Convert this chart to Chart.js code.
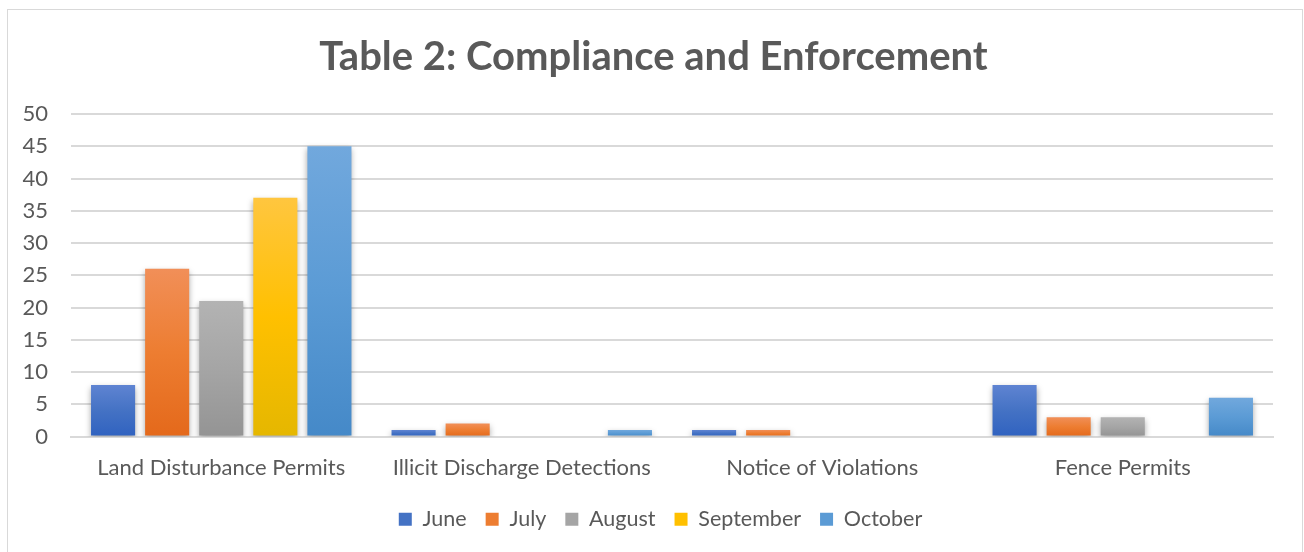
<!DOCTYPE html>
<html>
<head>
<meta charset="utf-8">
<script src="https://cdn.jsdelivr.net/npm/chart.js@4.4.1/dist/chart.umd.min.js"></script>
<style>
  html, body { margin: 0; padding: 0; background: #fff; }
  #wrap { position: relative; width: 1304px; height: 552px; overflow: hidden; }
  #frame { position: absolute; left: 7px; top: 9px; width: 1294px; height: 560px; border: 1px solid #d9d9d9; }
  #c { position: absolute; left: 0; top: 0; }
</style>
</head>
<body>
<div id="wrap">
  <div id="frame"></div>
  <canvas id="c" width="1304" height="552"></canvas>
</div>
<script>
// chart values
const categories = ['Land Disturbance Permits', 'Illicit Discharge Detections', 'Notice of Violations', 'Fence Permits'];
const months = ['June', 'July', 'August', 'September', 'October'];
const june = [8, 1, 1, 8];
const july = [26, 2, 1, 3];
const august = [21, 0, 0, 3];
const september = [37, 0, 0, 0];
const october = [45, 1, 0, 6];
const yTicks = [0, 5, 10, 15, 20, 25, 30, 35, 40, 45, 50];

// light / mid / dark for each month (office style gradient)
const shades = [
  ['#5F84D2', '#4472C4', '#3062C0'],
  ['#F18F58', '#ED7D31', '#E4691B'],
  ['#B3B3B3', '#A5A5A5', '#949494'],
  ['#FFC63F', '#FFC000', '#E5B700'],
  ['#71A8DD', '#5B9BD5', '#4589C8']
];
const textColor = '#595959';
const fontFam = 'Lato, "Open Sans", sans-serif';

function barGradient(idx) {
  return function(context) {
    const chart = context.chart;
    if (!chart.chartArea || context.raw == null) return shades[idx][1];
    const y = chart.scales.y;
    const top = y.getPixelForValue(context.raw);
    const base = y.getPixelForValue(0);
    if (base - top < 1) return shades[idx][1];
    const g = chart.ctx.createLinearGradient(0, top, 0, base);
    g.addColorStop(0, shades[idx][0]);
    g.addColorStop(0.5, shades[idx][1]);
    g.addColorStop(1, shades[idx][2]);
    return g;
  };
}

const series = [june, july, august, september, october];
const datasets = series.map(function(vals, i) {
  return {
    label: months[i],
    data: vals,
    backgroundColor: barGradient(i),
    borderWidth: 0,
    categoryPercentage: 0.9,
    barPercentage: 0.815
  };
});

// soft drop shadow under the bars, like the excel chart
const barShadow = {
  id: 'barShadow',
  beforeDatasetsDraw(chart) {
    const ctx = chart.ctx;
    ctx.save();
    ctx.shadowColor = 'rgba(0,0,0,0.35)';
    ctx.shadowBlur = 6;
    ctx.shadowOffsetX = 0;
    ctx.shadowOffsetY = 3;
  },
  afterDatasetsDraw(chart) {
    chart.ctx.restore();
  }
};

// title and legend in the picture sit a bit right of the canvas centre
const blockShift = {
  id: 'blockShift',
  afterLayout(chart) {
    if (chart.legend) {
      chart.legend.left += 24;
      chart.legend.right += 24;
    }
    if (chart.titleBlock) {
      chart.titleBlock.left += 17;
      chart.titleBlock.right += 17;
    }
  }
};

new Chart(document.getElementById('c'), {
  type: 'bar',
  data: { labels: categories, datasets: datasets },
  plugins: [barShadow, blockShift],
  options: {
    responsive: false,
    animation: false,
    layout: { padding: { top: 33, right: 31, bottom: 12, left: 0 } },
    plugins: {
      title: {
        display: true,
        text: 'Table 2: Compliance and Enforcement',
        color: textColor,
        font: { family: fontFam, size: 40, weight: 'bold', lineHeight: 1.2 },
        padding: { top: 0, bottom: 33 }
      },
      legend: {
        position: 'bottom',
        labels: {
          color: textColor,
          font: { family: fontFam, size: 21.5 },
          boxWidth: 13,
          boxHeight: 13,
          padding: 19,
          generateLabels: function(chart) {
            return months.map(function(m, i) {
              return { text: m, fillStyle: shades[i][1], strokeStyle: shades[i][1], lineWidth: 0, datasetIndex: i, fontColor: textColor };
            });
          }
        }
      },
      tooltip: { enabled: false }
    },
    scales: {
      x: {
        grid: { display: false, drawTicks: false },
        border: { display: true, color: '#d9d9d9', width: 2 },
        afterFit: function(axis) { axis.height = 53; },
        ticks: { color: textColor, font: { family: fontFam, size: 22 }, padding: 18 }
      },
      y: {
        min: 0,
        max: 50,
        afterBuildTicks: function(axis) { axis.ticks = yTicks.map(function(v) { return { value: v }; }); },
        afterFit: function(axis) { axis.width = 71; },
        grid: { color: '#d9d9d9', lineWidth: 2, drawTicks: false },
        border: { display: false },
        ticks: { color: textColor, font: { family: fontFam, size: 22 }, padding: 23 }
      }
    }
  }
});
</script>
</body>
</html>
